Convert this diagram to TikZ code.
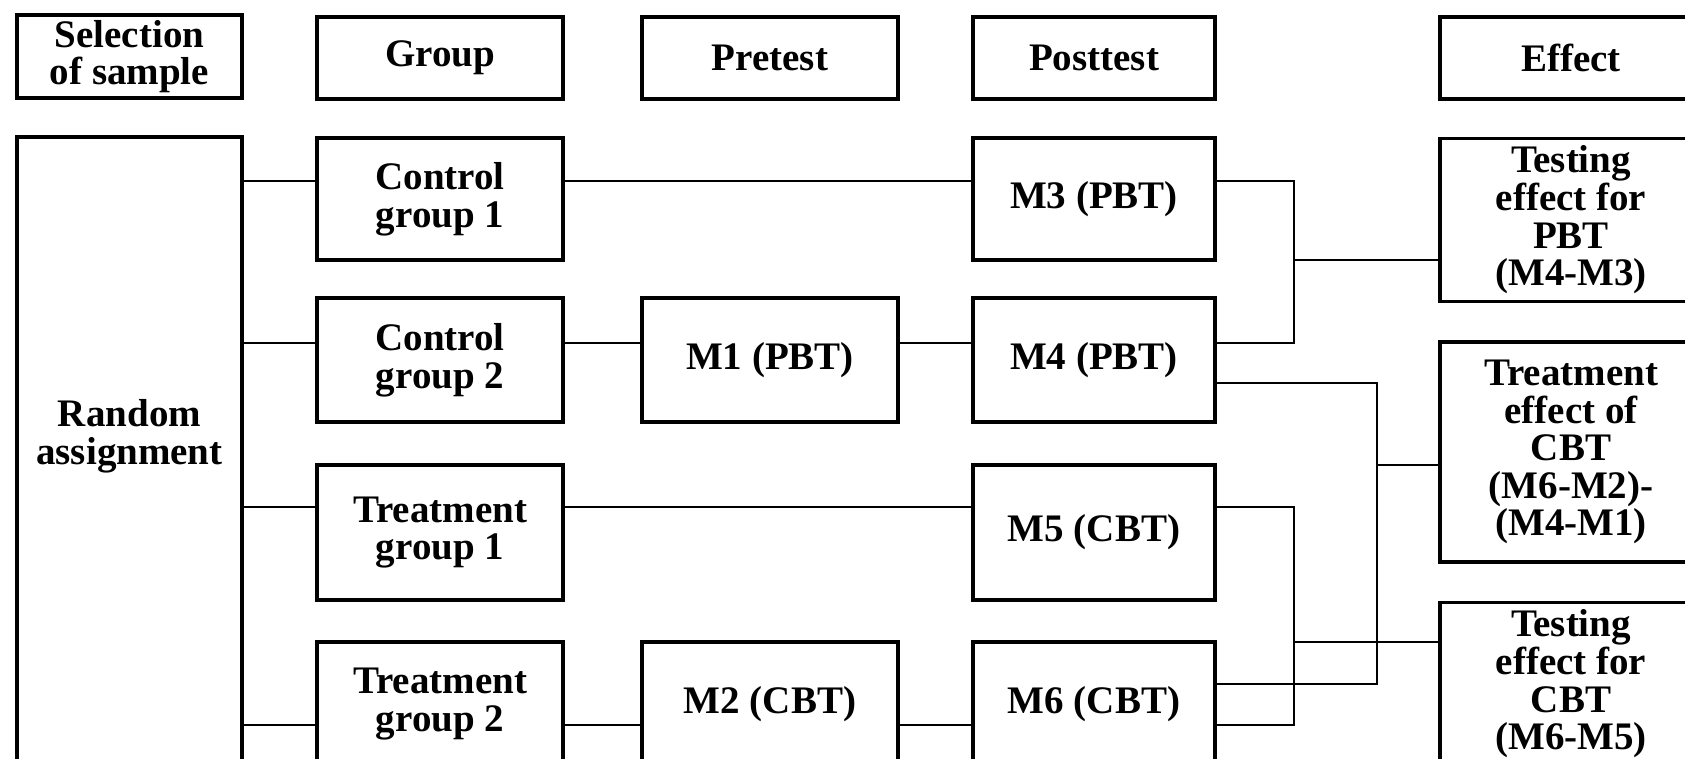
\documentclass[tikz,border=0pt]{standalone}
\usepackage{fontspec}
\setmainfont{Liberation Serif}
\begin{document}
\begin{tikzpicture}[x=0.5pt,y=-0.5pt,
  lbl/.style={inner sep=0pt,align=center,font=\fontsize{19.5}{18.8}\selectfont\bfseries},
  box/.style={lbl,draw,line width=1.6pt},
  wh/.style 2 args={minimum width={#1*0.5pt},minimum height={#2*0.5pt}},
  conn/.style={line width=1.4pt}]
\useasboundingbox (0,0) rectangle (1685,759);
\clip (0,0) rectangle (1685,759);
% header row
\node[box,wh={225}{83}] (sel) at (129.5,56.5) {Selection\\of sample};
\node[box,wh={246}{82}] (grp) at (440,58) {Group};
\node[box,wh={256}{82}] (pre) at (770,58) {Pretest};
\node[box,wh={242}{82}] (post) at (1094,58) {Posttest};
\node[box,wh={262}{82}] (eff) at (1571,58) {Effect};
% random assignment
\node[box,wh={225}{700}] (rand) at (129.5,487) {};
\node[lbl] (randt) at (129.5,436) {Random\\assignment};
% groups
\node[box,wh={246}{122}] (cg1) at (440,199) {Control\\group 1};
\node[box,wh={246}{124}] (cg2) at (440,360) {Control\\group 2};
\node[box,wh={246}{135}] (tg1) at (440,532.5) {Treatment\\group 1};
\node[box,wh={246}{124}] (tg2) at (440,704) {Treatment\\group 2};
% pretest
\node[box,wh={256}{124}] (m1) at (770,360) {M1 (PBT)};
\node[box,wh={256}{124}] (m2) at (770,704) {M2 (CBT)};
% posttest
\node[box,wh={242}{122}] (m3) at (1094,199) {M3 (PBT)};
\node[box,wh={242}{124}] (m4) at (1094,360) {M4 (PBT)};
\node[box,wh={242}{135}] (m5) at (1094,532.5) {M5 (CBT)};
\node[box,wh={242}{124}] (m6) at (1094,704) {M6 (CBT)};
% effects
\node[box,wh={262}{163}] (te1) at (1571,220) {Testing\\effect for\\PBT\\(M4-M3)};
\node[box,wh={262}{220}] (te2) at (1571,452) {Treatment\\effect of\\CBT\\(M6-M2)-\\(M4-M1)};
\node[box,wh={262}{163}] (te3) at (1571,684) {Testing\\effect for\\CBT\\(M6-M5)};
% helper coordinates
\coordinate (r1) at (0,181);
\coordinate (r2) at (0,343);
\coordinate (r2b) at (0,383);
\coordinate (r3) at (0,507);
\coordinate (r4a) at (0,684);
\coordinate (r4) at (0,725);
\coordinate (busA) at (1294,0);
\coordinate (busB) at (1377,0);
\coordinate (in1) at (0,260);
\coordinate (in2) at (0,465);
\coordinate (in3) at (0,642);
% rows
\draw[conn] (rand.east |- r1) -- (cg1.west |- r1);
\draw[conn] (cg1.east |- r1) -- (m3.west |- r1);
\draw[conn] (rand.east |- r2) -- (cg2.west |- r2);
\draw[conn] (cg2.east |- r2) -- (m1.west |- r2);
\draw[conn] (m1.east |- r2) -- (m4.west |- r2);
\draw[conn] (rand.east |- r3) -- (tg1.west |- r3);
\draw[conn] (tg1.east |- r3) -- (m5.west |- r3);
\draw[conn] (rand.east |- r4) -- (tg2.west |- r4);
\draw[conn] (tg2.east |- r4) -- (m2.west |- r4);
\draw[conn] (m2.east |- r4) -- (m6.west |- r4);
% effect connectors
\draw[conn] (m3.east |- r1) -| (busA |- r2) -- (m4.east |- r2);
\draw[conn] (busA |- in1) -- (te1.west |- in1);
\draw[conn] (m4.east |- r2b) -| (busB |- r4a) -- (m6.east |- r4a);
\draw[conn] (busB |- in2) -- (te2.west |- in2);
\draw[conn] (m5.east |- r3) -| (busA |- r4) -- (m6.east |- r4);
\draw[conn] (busA |- in3) -- (te3.west |- in3);
\end{tikzpicture}
\end{document}
